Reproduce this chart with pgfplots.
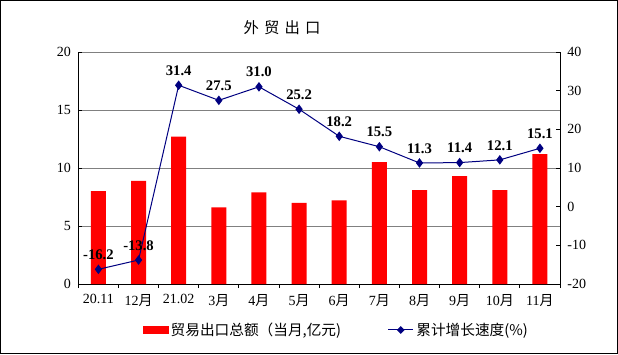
\documentclass[border=0pt]{standalone}
\usepackage{pgfplots}
\pgfplotsset{compat=1.18}
\usepackage{fontspec}
\setmainfont{Liberation Serif}
\newfontfamily\cjk{Noto Sans CJK SC}
\definecolor{navyline}{RGB}{0,0,128}
\definecolor{gridgray}{RGB}{128,128,128}
\begin{document}
\begin{tikzpicture}[x=1pt,y=1pt]
\useasboundingbox (0,0) rectangle (463.5,265.5);
\draw[black, line width=0.75pt] (0.375,0.375) rectangle (463.125,265.125);
\node[font=\cjk\fontsize{11.5}{13}\selectfont] at (211.5,244.5) {外\,\,贸\,\,出\,\,口};
\pgfplotsset{
  common/.style={
    at={(58.75pt,52.5pt)}, anchor=south west, scale only axis,
    width=361.25pt, height=174pt,
    xmin=-0.5, xmax=11.5,
    tick align=inside,
    tick style={black, line width=0.6pt},
    major tick length=3pt, minor tick length=3pt,
    axis line style={-, black, line width=0.75pt},
    tick label style={font=\fontsize{10.5}{12}\selectfont},
    /pgf/number format/assume math mode=true,
  }
}
\begin{axis}[common,
  ymin=0, ymax=20, ytick={0,5,...,20},
  ymajorgrids, grid style={gridgray, line width=0.75pt},
  axis x line*=bottom, axis y line*=left,
  yticklabel style={xshift=-2pt},
  xtick={0,...,11},
  xticklabels={20.11,{12\cjk 月},21.02,{3\cjk 月},{4\cjk 月},{5\cjk 月},{6\cjk 月},{7\cjk 月},{8\cjk 月},{9\cjk 月},{10\cjk 月},{11\cjk 月}},
  xticklabel style={yshift=-1pt},
  major x tick style={draw=none},
  minor xtick={-0.5,0.5,...,11.5},
  ybar, bar width=11.25pt,
]
\addplot[fill=red, draw=none] coordinates {
  (0,8.0) (1,8.9) (2,12.7) (3,6.6) (4,7.9) (5,7.0)
  (6,7.2) (7,10.5) (8,8.1) (9,9.3) (10,8.1) (11,11.2)
};
\end{axis}
\begin{axis}[common,
  ymin=-20, ymax=40, ytick={-20,-10,...,40},
  axis y line*=right, axis x line=none,
  yticklabel style={xshift=2pt},
  legend columns=2,
  legend style={at={(0.536,-0.198)}, anchor=center, draw=none, fill=none,
    font=\cjk\fontsize{11}{12}\selectfont, inner sep=0pt,
    /tikz/every even column/.append style={column sep=33pt}},
]
\addlegendimage{legend image code/.code={\fill[red] (0pt,-2.5pt) rectangle (18.75pt,2.5pt);}}
\addlegendentry{贸易出口总额（当月,亿元)}
\addplot[navyline, line width=0.75pt, mark=diamond*, mark size=3pt,
  mark options={fill=navyline, draw=navyline},
  nodes near coords={\pgfmathprintnumber[fixed,precision=1,fixed zerofill]{\pgfplotspointmeta}},
  nodes near coords align={above},
  every node near coord/.append style={font=\bfseries\fontsize{11}{12}\selectfont, black, yshift=3.5pt},
  legend image code/.code={\draw[navyline, line width=0.75pt] (0pt,0pt) -- (18.75pt,0pt); \fill[navyline] (9.4pt,0pt) +(0,2.4pt) -- +(2.4pt,0) -- +(0,-2.4pt) -- +(-2.4pt,0) -- cycle;},
] coordinates {
  (0,-16.2) (1,-13.8) (2,31.4) (3,27.5) (4,31.0) (5,25.2)
  (6,18.2) (7,15.5) (8,11.3) (9,11.4) (10,12.1) (11,15.1)
};
\addlegendentry{累计增长速度(\%)}
\end{axis}
\end{tikzpicture}
\end{document}
